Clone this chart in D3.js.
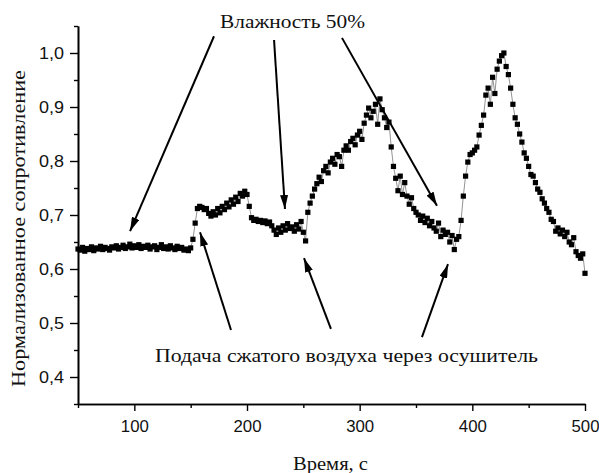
<!DOCTYPE html>
<html><head><meta charset="utf-8">
<script src="https://cdn.jsdelivr.net/npm/d3@7"></script>
<style>body{margin:0;background:#fff}</style>
</head><body>
<svg id="c" width="599" height="473"></svg>
<script>
const times = [50,52,54,56,58,60,62,64,66,68,70,72,74,76,78,80,82,84,86,88,90,92,94,96,98,100,
102,104,106,108,110,112,114,116,118,120,122,124,126,128,130,132,134,136,138,140,142,144,146,148,150,
152,154,156,158,160,162,164,166,168,170,172,174,176,178,180,182,184,186,188,190,192,194,196,198,200,202,
204,206,208,210,212,214,216,218,220,222,224,226,228,230,232,234,236,238,240,242,244,246,248,250,252,
254,256,258,260,262,264,266,268,270,272,274,276,278,280,282,284,286,288,290,292,294,296,298,300,302,304,306,308,310,312,314,316,318,
320,322,324,326,328,330,332,334,336,338,340,342,344,346,348,350,352,354,356,358,360,362,364,366,368,370,372,374,376,378,380,382,384,386,388,
390,392,394,396,398,400,402,404,406,408,410,412,414,416,418,420,422,424,426,428,430,
432,434,436,438,440,442,444,446,448,450,452,454,456,458,460,462,464,466,468,470,472,474,476,478,480,482,484,486,488,490,492,494,496,498,500];
const resistance = [
0.637,0.635,0.640,0.633,0.638,0.636,0.641,0.634,0.639,0.637,
0.642,0.636,0.640,0.638,0.635,0.641,0.639,0.643,0.637,0.640,
0.644,0.638,0.641,0.646,0.639,0.643,0.640,0.645,0.638,0.642,
0.640,0.644,0.637,0.641,0.643,0.636,0.640,0.645,0.638,0.641,
0.637,0.643,0.639,0.636,0.642,0.638,0.640,0.635,0.637,0.634,0.639,
0.655,0.685,0.712,0.716,0.714,0.710,0.712,0.703,0.698,0.706,0.700,0.712,0.704,0.716,0.710,0.722,0.715,0.728,0.720,0.733,0.725,0.740,0.735,0.744,0.738,0.716,
0.695,0.690,0.692,0.688,0.690,0.686,0.689,0.684,0.687,0.680,0.672,0.664,0.676,0.668,0.680,0.672,0.684,0.675,0.678,0.670,0.682,0.674,0.688,0.668,0.652,
0.705,0.722,0.735,0.748,0.758,0.770,0.762,0.782,0.790,0.778,0.798,0.805,0.794,0.812,0.808,0.790,0.820,0.828,0.820,0.836,0.842,0.830,0.848,0.855,0.840,0.870,0.885,0.898,0.880,0.892,0.905,0.868,0.915,
0.895,0.880,0.862,0.872,0.826,0.790,0.768,0.745,0.772,0.738,0.760,0.735,0.720,0.732,0.712,0.705,0.700,0.690,0.698,0.686,0.694,0.680,0.688,0.676,0.670,0.685,0.660,0.672,0.664,0.668,0.650,0.662,0.636,0.655,0.660,
0.690,0.735,0.772,0.798,0.812,0.815,0.820,0.826,0.848,0.866,0.885,0.922,0.935,0.905,0.955,0.925,0.970,0.985,0.995,1.000,0.975,
0.960,0.935,0.905,0.880,0.868,0.850,0.835,0.815,0.805,0.790,0.775,0.772,0.760,0.748,0.742,0.730,0.722,0.712,0.705,0.692,0.688,0.670,0.676,0.665,0.672,0.660,0.668,0.650,0.645,0.658,0.632,0.625,0.620,0.628,0.592];
const xTicks = [100,200,300,400,500];
const xMinor = [50,150,250,350,450];
const yTicks = [0.4,0.5,0.6,0.7,0.8,0.9,1.0];
const yMinor = [0.35,0.45,0.55,0.65,0.75,0.85,0.95,1.05];
const yTitle = "Нормализованное сопротивление";
const xTitle = "Время, с";
const noteTop = "Влажность 50%";
const noteBottom = "Подача сжатого воздуха через осушитель";
// arrows: [fromT, fromV, toT, toV] in data units
const arrowsTop = [[170.7,1.031,96.2,0.670],[224,1.024,233.7,0.711],[284.3,1.028,368.6,0.717]];
const arrowsBottom = [[185.8,0.487,158.3,0.668],[274.5,0.489,250.6,0.620],[355.3,0.474,378.4,0.609]];

const svg = d3.select("#c");
const x = d3.scaleLinear().domain([50,500]).range([78,585]);
const y = d3.scaleLinear().domain([0.35,1.05]).range([404,26]);
const fmt = d => d3.format(".1f")(d).replace(".", ",");

// axes
svg.append("g").attr("transform","translate(0,404)")
  .call(d3.axisBottom(x).tickValues(xTicks).tickSize(7).tickSizeOuter(0).tickPadding(10));
svg.append("g").attr("transform","translate(0,404)")
  .call(d3.axisBottom(x).tickValues(xMinor).tickSize(4).tickFormat("").tickSizeOuter(0));
svg.append("g").attr("transform","translate(78,0)")
  .call(d3.axisLeft(y).tickValues(yTicks).tickFormat(fmt).tickSize(8).tickSizeOuter(0).tickPadding(6));
svg.append("g").attr("transform","translate(78,0)")
  .call(d3.axisLeft(y).tickValues(yMinor).tickSize(4).tickFormat("").tickSizeOuter(0));
svg.selectAll(".domain").attr("stroke","#000").attr("stroke-width",1.6);
svg.selectAll(".tick line").attr("stroke","#000").attr("stroke-width",1.4);
svg.selectAll(".tick text").attr("font-family","'Liberation Sans', Arial, sans-serif").attr("font-size",16).attr("fill","#111");
svg.selectAll(".tick text").filter(function(){return this.textContent.includes(",");})
  .attr("textLength",25).attr("lengthAdjust","spacingAndGlyphs");
svg.selectAll(".tick text").filter(function(){return !this.textContent.includes(",") && this.textContent.length===3;})
  .attr("textLength",28).attr("lengthAdjust","spacingAndGlyphs");

// line + markers
const pts = times.map((t,i)=>[t,resistance[i]]);
svg.append("path").datum(pts)
  .attr("d", d3.line().x(d=>x(d[0])).y(d=>y(d[1])))
  .attr("fill","none").attr("stroke","#777").attr("stroke-width",0.8);
svg.append("g").selectAll("rect").data(pts).join("rect")
  .attr("x",d=>x(d[0])-2.6).attr("y",d=>y(d[1])-2.6)
  .attr("width",5.2).attr("height",5.2).attr("fill","#000");

// arrows
const defs = svg.append("defs");
defs.append("marker").attr("id","ah").attr("viewBox","0 0 14 8").attr("refX",14).attr("refY",4)
  .attr("markerWidth",14).attr("markerHeight",8).attr("markerUnits","userSpaceOnUse").attr("orient","auto")
  .append("path").attr("d","M0,0 L14,4 L0,8 Z").attr("fill","#000");
svg.append("g").selectAll("line").data(arrowsTop.concat(arrowsBottom)).join("line")
  .attr("x1",d=>x(d[0])).attr("y1",d=>y(d[1])).attr("x2",d=>x(d[2])).attr("y2",d=>y(d[3]))
  .attr("stroke","#000").attr("stroke-width",2).attr("marker-end","url(#ah)");

// texts
const serif = "'Liberation Serif', 'Times New Roman', serif";
function label(txt, cx, cy, len, size, rot) {
  const t = svg.append("text").attr("text-anchor","middle")
    .attr("font-family",serif).attr("font-size",size).attr("fill","#111")
    .attr("textLength",len).attr("lengthAdjust","spacingAndGlyphs").text(txt);
  if (rot) t.attr("transform",`translate(${cx},${cy}) rotate(-90)`);
  else t.attr("x",cx).attr("y",cy);
}
label(noteTop, 292.5, 28, 145, 18);
label(noteBottom, 346.5, 362, 383, 18);
label(xTitle, 330.5, 470, 75, 18);
label(yTitle, 25, 228.5, 317, 19, true);
</script>
</body></html>
